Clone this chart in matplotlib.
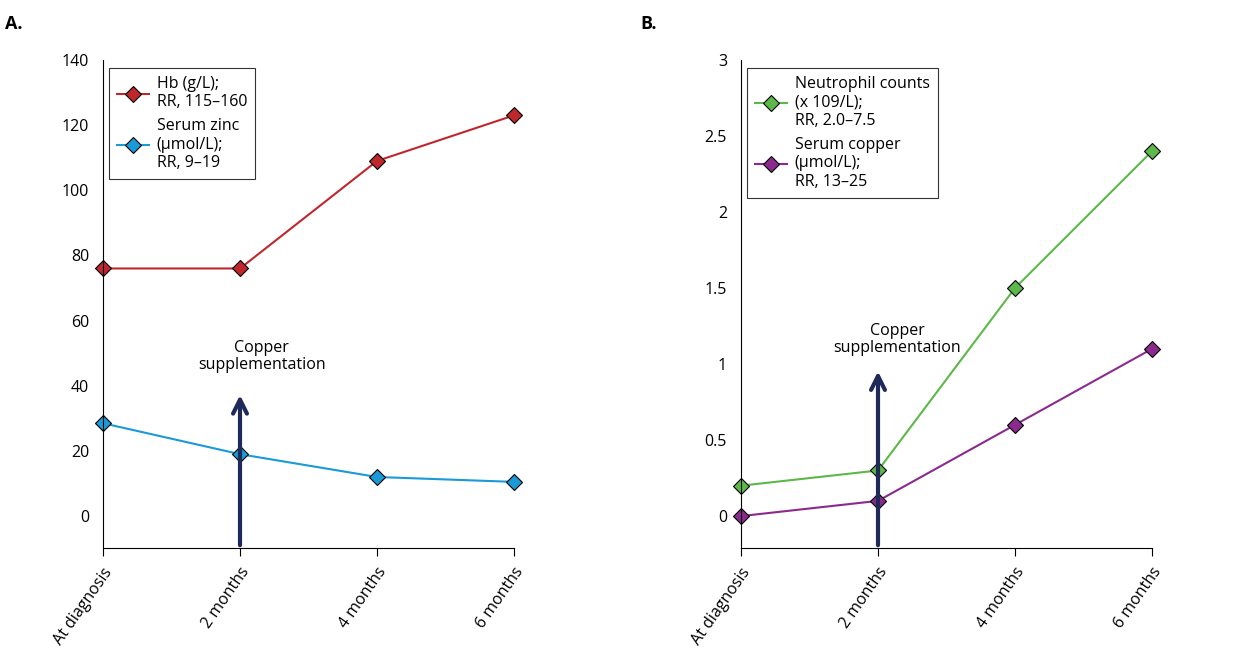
import matplotlib.pyplot as plt

plt.rcParams['font.family'] = ['Open Sans', 'DejaVu Sans']
plt.rcParams['font.size'] = 11.5

timepoints = ['At diagnosis', '2 months', '4 months', '6 months']
hb = [76, 76, 109, 123]
zinc = [28.5, 19, 12, 10.5]
neutrophil = [0.2, 0.3, 1.5, 2.4]
copper = [0, 0.1, 0.6, 1.1]

fig = plt.figure(figsize=(12.5, 6.49), dpi=100)
axA = fig.add_axes([0.0824, 0.1556, 0.3288, 0.752])
axB = fig.add_axes([0.5928, 0.1556, 0.3288, 0.752])

x = range(len(timepoints))


def style(ax, ylim, yticks, ylabels):
    ax.set_xlim(0, 3)
    ax.set_ylim(*ylim)
    ax.set_yticks(yticks)
    ax.set_yticklabels(ylabels)
    ax.set_xticks(list(x))
    ax.set_xticklabels(timepoints, rotation=55, ha='right', rotation_mode='anchor')
    for s in ['top', 'right']:
        ax.spines[s].set_visible(False)
    ax.tick_params(axis='y', length=0, pad=10)
    ax.tick_params(axis='x', direction='out', length=6, pad=6)
    for s in ax.spines.values():
        s.set_linewidth(0.8)


mk = dict(marker='D', markersize=8, markeredgecolor='black', markeredgewidth=0.8, lw=1.5, clip_on=False)

axA.plot(x, hb, color='#c0272d', label='Hb (g/L);\nRR, 115–160', **mk)
axA.plot(x, zinc, color='#1a9ad6', label='Serum zinc\n(µmol/L);\nRR, 9–19', **mk)
style(axA, (-9.8, 140), range(0, 141, 20), [str(v) for v in range(0, 141, 20)])
axA.annotate('', xy=(1, 38), xytext=(1, -9.8),
             arrowprops=dict(arrowstyle='->', color='#1f2a5a', lw=3, mutation_scale=25))
axA.text(1.16, 49, 'Copper\nsupplementation', ha='center', va='center', linespacing=1.1)

axB.plot(x, neutrophil, color='#5cb848', label='Neutrophil counts\n(x 109/L);\nRR, 2.0–7.5', **mk)
axB.plot(x, copper, color='#8b2a8e', label='Serum copper\n(µmol/L);\nRR, 13–25', **mk)
style(axB, (-0.21, 3), [0, 0.5, 1, 1.5, 2, 2.5, 3], ['0', '0.5', '1', '1.5', '2', '2.5', '3'])
axB.annotate('', xy=(1, 0.97), xytext=(1, -0.21),
             arrowprops=dict(arrowstyle='->', color='#1f2a5a', lw=3, mutation_scale=25))
axB.text(1.14, 1.16, 'Copper\nsupplementation', ha='center', va='center', linespacing=1.1)

for ax in (axA, axB):
    leg = ax.legend(loc='upper left', bbox_to_anchor=(-0.005, 1.0), frameon=True, fancybox=False,
                    edgecolor='black', handlelength=2.0, handletextpad=0.5, labelspacing=0.5,
                    borderpad=0.5)
    leg.get_frame().set_linewidth(0.8)

fig.text(0.004, 0.955, 'A.', fontsize=13, fontweight='bold')
fig.text(0.512, 0.955, 'B.', fontsize=13, fontweight='bold')

fig.savefig('out.png', dpi=100)
